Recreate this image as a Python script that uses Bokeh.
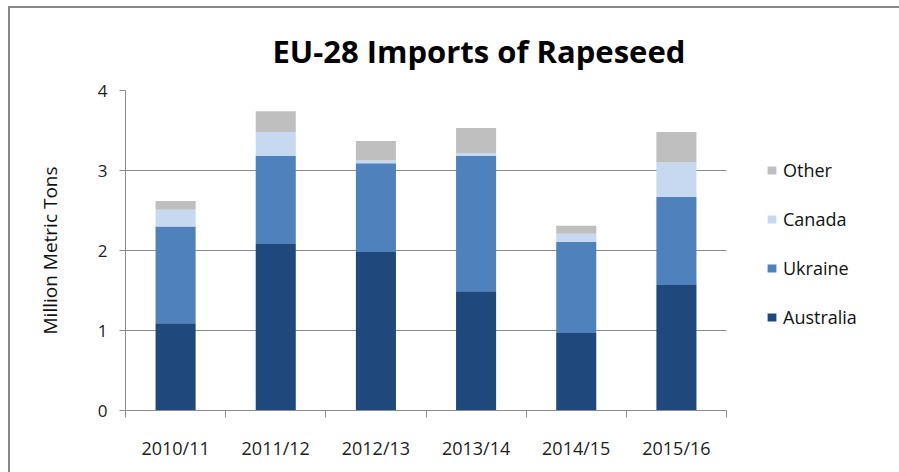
from bokeh.plotting import figure
from bokeh.models import (FixedTicker, Legend, LegendItem, Range1d,
                          ColumnDataSource, Title)
from bokeh.embed import file_html
from bokeh.resources import INLINE

# ---- data ----
years = ["2010/11", "2011/12", "2012/13", "2013/14", "2014/15", "2015/16"]
australia = [1.09, 2.08, 1.98, 1.49, 0.97, 1.57]
ukraine = [1.21, 1.10, 1.11, 1.69, 1.14, 1.10]
canada = [0.21, 0.30, 0.035, 0.04, 0.10, 0.43]
other = [0.11, 0.26, 0.245, 0.31, 0.10, 0.38]
series = ["Australia", "Ukraine", "Canada", "Other"]
colors = ["#1F497D", "#4F81BD", "#C6D9F1", "#BFBFBF"]
y_ticks = [0, 1, 2, 3, 4]

n = len(years)
pos = [i + 0.5 for i in range(n)]
src = ColumnDataSource(dict(x=pos, Australia=australia, Ukraine=ukraine,
                            Canada=canada, Other=other))

FONT = "Open Sans"
GRID = "#8C8C8C"

# plot area: categories occupy 601 px; frame extends right to hold the legend
CAT_W = 601
FRAME_W = 774
p = figure(frame_width=FRAME_W, frame_height=320, output_backend="svg",
           toolbar_location=None,
           x_range=Range1d(0, n * FRAME_W / CAT_W), y_range=Range1d(0, 4),
           min_border_left=125, min_border_right=0, min_border_top=90,
           min_border_bottom=62, outline_line_color=None,
           background_fill_color="white", border_fill_alpha=0)
# chart-area border (left & top edges visible in the window)
p.styles = {"box-shadow": "inset 8px 6px 0 0 #ffffff, inset 10px 8px 0 0 #888888",
            "overflow": "hidden", "border": "none", "outline": "none"}

renderers = p.vbar_stack(series, x="x", width=0.4, source=src, color=colors,
                         line_color=None)

# axes
p.xaxis.bounds = (0, n)
p.xaxis.ticker = FixedTicker(ticks=pos, minor_ticks=list(range(n + 1)))
p.xaxis.major_label_overrides = {v: years[i] for i, v in enumerate(pos)}
p.xaxis.major_tick_out = 0
p.xaxis.major_tick_in = 0
p.xaxis.minor_tick_out = 7
p.xaxis.minor_tick_in = 0
p.xaxis.minor_tick_line_color = GRID
p.xaxis.axis_line_color = GRID
p.xaxis.major_label_text_font = FONT
p.xaxis.major_label_text_font_size = "18px"
p.xaxis.major_label_text_color = "#222222"
p.xaxis.major_label_standoff = 18

p.yaxis.ticker = FixedTicker(ticks=y_ticks)
p.yaxis.major_tick_out = 6
p.yaxis.major_tick_in = 0
p.yaxis.minor_tick_line_color = None
p.yaxis.major_tick_line_color = GRID
p.yaxis.axis_line_color = GRID
p.yaxis.major_label_text_font = FONT
p.yaxis.major_label_text_font_size = "17px"
p.yaxis.major_label_text_color = "#222222"
p.yaxis.major_label_standoff = 12
p.yaxis.axis_label = "Million Metric Tons"
p.yaxis.axis_label_text_font = FONT
p.yaxis.axis_label_text_font_style = "normal"
p.yaxis.axis_label_text_font_size = "19px"
p.yaxis.axis_label_text_color = "#111111"
p.yaxis.axis_label_standoff = 32

p.xgrid.grid_line_color = None
g = p.ygrid[0]
if "cross_bounds" in g.properties():
    g.grid_line_color = GRID
    g.cross_bounds = (0, n)
else:
    g.grid_line_color = None
    p.segment(x0=[0] * len(y_ticks), x1=[n] * len(y_ticks), y0=y_ticks,
              y1=y_ticks, line_color=GRID, line_width=1, level="underlay")

# title
t = Title(text="EU-28 Imports of Rapeseed", align="left", offset=147,
          text_font=FONT, text_font_size="31px", text_font_style="bold",
          text_color="#000000", standoff=37)
p.add_layout(t, "above")

# legend (reverse order like the reference), right of the bars
items = [LegendItem(label=s, renderers=[r]) for s, r in zip(series, renderers)][::-1]
legend = Legend(items=items, location=(641, 81), margin=0, padding=0,
                glyph_width=11, glyph_height=10, label_standoff=6,
                label_text_font=FONT, label_text_font_size="18px",
                label_text_color="#111111", label_height=20, spacing=25,
                border_line_color=None, background_fill_alpha=0)
p.add_layout(legend)

open("out.html", "w").write(file_html(p, INLINE))
